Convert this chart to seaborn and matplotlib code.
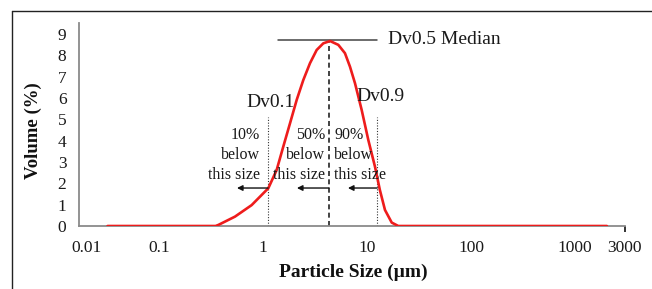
import matplotlib
matplotlib.use("Agg")
import matplotlib.pyplot as plt
import seaborn as sns
import pandas as pd
from matplotlib.lines import Line2D

# ---- data ----
particle_size = [0.032, 0.35, 0.372, 0.538, 0.778, 1.125, 1.354, 1.567, 1.818, 2.109,
                 2.441, 2.831, 3.283, 3.80, 4.41, 5.30, 6.14, 6.86, 7.67, 8.89,
                 10.3, 11.94, 13.3, 14.9, 17.3, 20.0, 2030]
volume_pct = [0.0, 0.0, 0.05, 0.44, 0.98, 1.77, 2.63, 3.72, 4.81, 5.91,
              6.84, 7.63, 8.25, 8.56, 8.67, 8.49, 8.1, 7.47, 6.69, 5.44,
              4.03, 2.78, 1.69, 0.75, 0.16, 0.0, 0.0]

x_tick_pos = [0.02, 0.1, 1, 10, 100, 1000, 3000]
x_tick_labels = ["0.01", "0.1", "1", "10", "100", "1000", "3000"]
y_ticks = [0, 1, 2, 3, 4, 5, 6, 7, 8, 9]

dv10, dv50, dv90 = 1.12, 4.31, 12.5
peak = 8.67

df = pd.DataFrame({"size": particle_size, "volume": volume_pct})

sns.set_theme(style="white")
plt.rcParams["font.family"] = ["Liberation Serif", "DejaVu Serif"]

fig = plt.figure(figsize=(6.52, 2.89), dpi=100)
ax = fig.add_axes([79 / 652, 63 / 289, 546 / 652, 202.7 / 289])

sns.lineplot(data=df, x="size", y="volume", ax=ax, color="#ee1c1c", lw=1.9, zorder=3)

ax.set_xscale("log")
ax.set_xlim(0.017, 3030)
ax.set_ylim(0, 9.5)
ax.set_xticks(x_tick_pos)
ax.set_xticklabels(x_tick_labels)
ax.xaxis.set_minor_locator(matplotlib.ticker.NullLocator())
ax.set_yticks(y_ticks)
ax.tick_params(axis="both", labelsize=12.5, colors="#1a1a1a", length=0)
ax.tick_params(axis="x", pad=10)
ax.tick_params(axis="y", pad=9)
# small inward tick at the right end
last = ax.xaxis.get_major_ticks()[-1]
last.tick1line.set_visible(True)
last.tick1line.set_marker(3)
last.tick1line.set_markersize(4)
last.tick1line.set_color("#888888")

for s in ["top", "right"]:
    ax.spines[s].set_visible(False)
for s in ["left", "bottom"]:
    ax.spines[s].set_color("#8a8a8a")
    ax.spines[s].set_linewidth(1.3)

ax.set_xlabel("Particle Size (µm)", fontsize=14, fontweight="bold", color="#111111")
ax.set_ylabel("Volume (%)", fontsize=13.5, fontweight="bold", color="#111111")
ax.xaxis.set_label_coords(0.502, -0.185)
ax.yaxis.set_label_coords(-0.068, 0.47)

tc = "#1a1a1a"
# median line and label
ax.plot([1.39, 12.5], [8.74, 8.74], color="#444444", lw=1.1, zorder=2)
ax.vlines(dv50, 0, peak, colors="#222222", linestyles=(0, (3, 2)), lw=1.2, zorder=2)
ax.text(15.9, 8.74, "Dv0.5 Median", fontsize=14, color=tc, va="center", ha="left")

# Dv0.1 and Dv0.9 lines
ax.vlines([dv10, dv90], 0, 5.1, colors="#333333", linestyles=(0, (1, 1.5)), lw=0.8, zorder=2)
ax.text(1.17, 5.77, "Dv0.1", fontsize=14, color=tc, va="center", ha="center")
ax.text(13.6, 6.05, "Dv0.9", fontsize=14, color=tc, va="center", ha="center")

ax.text(0.935, 3.33, "10%\nbelow\nthis size", fontsize=11.5, color=tc, va="center",
        ha="right", multialignment="right", linespacing=1.3)
ax.text(3.95, 3.33, "50%\nbelow\nthis size", fontsize=11.5, color=tc, va="center",
        ha="right", multialignment="right", linespacing=1.3)
ax.text(4.82, 3.33, "90%\nbelow\nthis size", fontsize=11.5, color=tc, va="center",
        ha="left", multialignment="left", linespacing=1.3)

arrow_y = 1.78
for x0, x1 in [(dv10, 0.562), (dv50, 2.12), (dv90, 6.56)]:
    ax.annotate("", xy=(x1, arrow_y), xytext=(x0, arrow_y),
                arrowprops=dict(arrowstyle="-|>", color="#111111", lw=1.0,
                                mutation_scale=8, shrinkA=0, shrinkB=0), zorder=4)

# figure frame (top and left edges visible)
fig.add_artist(Line2D([12 / 652, 1.0], [1 - 11 / 289, 1 - 11 / 289],
                      transform=fig.transFigure, color="#222222", lw=1.0))
fig.add_artist(Line2D([12 / 652, 12 / 652], [0.0, 1 - 11 / 289],
                      transform=fig.transFigure, color="#222222", lw=1.0))

fig.savefig("out.png", dpi=100)
